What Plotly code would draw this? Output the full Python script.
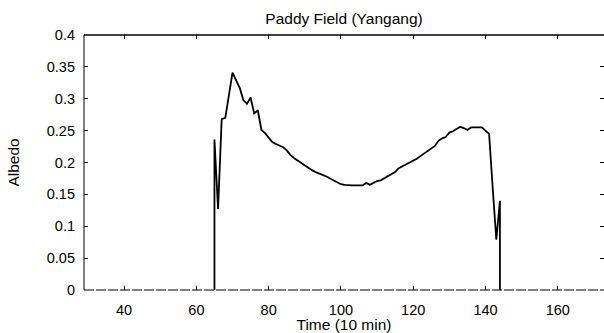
import plotly.graph_objects as go

# Day-time albedo samples (time index in 10-min steps)
time = [65, 65, 66, 67, 68, 69, 70, 71, 72, 73, 74, 75, 76, 77, 78, 79, 80,
        81, 82, 83, 84, 85, 86, 87, 88, 89, 90, 91, 92, 93, 94, 95, 96, 97,
        98, 99, 100, 101, 102, 103, 104, 105, 106, 107, 108, 109, 110, 111,
        112, 113, 114, 115, 116, 117, 118, 119, 120, 121, 122, 123, 124, 125,
        126, 127, 128, 129, 130, 131, 132, 133, 134, 135, 136, 137, 138, 139,
        140, 141, 142, 143, 144, 144]
albedo = [0.0, 0.236, 0.127, 0.268, 0.270, 0.305, 0.341, 0.329, 0.317, 0.298,
          0.292, 0.302, 0.277, 0.282, 0.251, 0.246, 0.239, 0.232, 0.229, 0.227,
          0.224, 0.219, 0.212, 0.207, 0.203, 0.200, 0.196, 0.192, 0.188, 0.185,
          0.183, 0.181, 0.178, 0.175, 0.172, 0.168, 0.166, 0.165, 0.164, 0.164,
          0.164, 0.164, 0.164, 0.168, 0.165, 0.168, 0.171, 0.172, 0.175, 0.179,
          0.181, 0.185, 0.191, 0.194, 0.196, 0.199, 0.202, 0.206, 0.210, 0.214,
          0.218, 0.222, 0.226, 0.234, 0.238, 0.240, 0.247, 0.249, 0.252, 0.256,
          0.254, 0.251, 0.255, 0.255, 0.255, 0.255, 0.250, 0.245, 0.160, 0.079,
          0.140, 0.0]

x_ticks = [40, 60, 80, 100, 120, 140, 160]
y_ticks = [0, 0.05, 0.1, 0.15, 0.2, 0.25, 0.3, 0.35, 0.4]
y_labels = ["0", "0.05", "0.1", "0.15", "0.2", "0.25", "0.3", "0.35", "0.4"]
x_range = [28.9, 172.8]
y_range = [0, 0.4]

FONT = "Liberation Sans, Arial, sans-serif"
TICK_SIZE = 14.5
TITLE_SIZE = 15.5

fig = go.Figure()
fig.add_trace(go.Scatter(x=time, y=albedo, mode="lines",
                         line=dict(color="black", width=1.8),
                         showlegend=False, hoverinfo="skip"))

fig.update_layout(
    width=604, height=333,
    margin=dict(l=84, r=0, t=35, b=43),
    paper_bgcolor="white", plot_bgcolor="white",
    font=dict(family=FONT, size=TICK_SIZE, color="black"),
    title=dict(text="Paddy Field (Yangang)", x=(84 + 604) / 2 / 604, xanchor="center",
               y=1 - 19 / 333, yanchor="middle", font=dict(size=TITLE_SIZE)),
    showlegend=False,
)
fig.update_xaxes(range=x_range, tickvals=x_ticks, ticks="inside", ticklen=4,
                 tickcolor="black", tickwidth=1, showgrid=False, zeroline=False,
                 showline=False, mirror="ticks", ticklabelstandoff=9,
                 title=dict(text="Time (10 min)", standoff=0, font=dict(size=TITLE_SIZE)),
                 tickfont=dict(size=TICK_SIZE))
fig.update_yaxes(range=y_range, tickvals=y_ticks, ticktext=y_labels, ticks="inside",
                 ticklen=4, tickcolor="black", tickwidth=1, showgrid=False,
                 zeroline=False, showline=False, mirror="ticks", ticklabelstandoff=8,
                 title=dict(text="Albedo", standoff=23, font=dict(size=TITLE_SIZE)),
                 tickfont=dict(size=TICK_SIZE))

# frame: left and top solid, bottom dashed
fig.add_shape(type="line", xref="paper", yref="paper", x0=0, x1=0, y0=0, y1=1,
              line=dict(color="black", width=1))
fig.add_shape(type="line", xref="paper", yref="paper", x0=0, x1=1, y0=1, y1=1,
              line=dict(color="black", width=1.3))
fig.add_shape(type="line", xref="paper", yref="paper", x0=0, x1=1, y0=0, y1=0,
              line=dict(color="black", width=1, dash="10px,2px"))

fig.write_html("out.html")
